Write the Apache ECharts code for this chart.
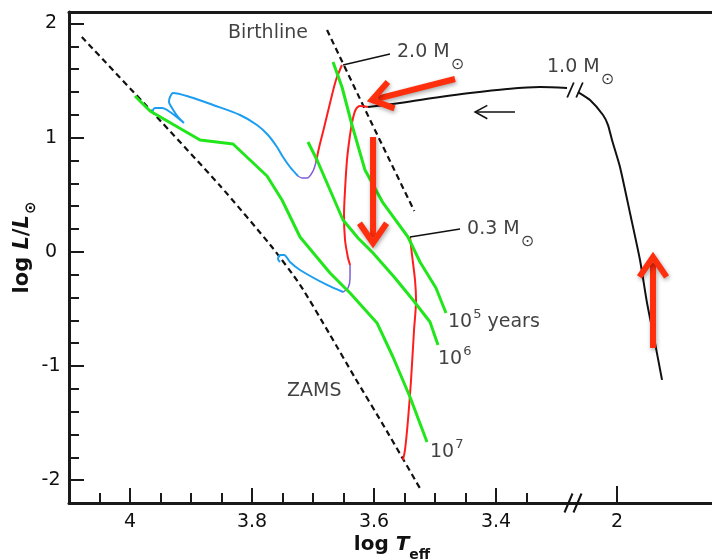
<!DOCTYPE html>
<html><head><meta charset="utf-8">
<script src="https://cdn.jsdelivr.net/npm/echarts@6/dist/echarts.min.js"></script>
<style>html,body{margin:0;padding:0;background:#fff}#c{width:712px;height:560px}</style>
</head><body><div id="c"></div>
<script>
// ---------------- data: [log Teff, log L/Lsun] ----------------
const xMajorTicks = [4, 3.8, 3.6, 3.4];
const xMinorTicks = [4.05, 3.95, 3.9, 3.85, 3.75, 3.7, 3.65, 3.55, 3.5, 3.45, 3.35];
const xRightTicks = [2];
const yMajorTicks = [-2, -1, 0, 1, 2];
const yMinorTicks = [-1.8, -1.6, -1.4, -1.2, -0.8, -0.6, -0.4, -0.2, 0.2, 0.4, 0.6, 0.8, 1.2, 1.4, 1.6, 1.8];

const zams = [[4.079,1.881],[3.962,1.215],[3.852,0.576],[3.770,0.060],[3.721,-0.291],[3.672,-0.728],[3.631,-1.105],[3.582,-1.543],[3.525,-2.068]];
const birthline = [[3.677,1.942],[3.606,1.150],[3.534,0.357]];

const track20Red = [[3.6525,1.636],[3.6623,1.5045],[3.6721,1.303],[3.682,1.084],[3.6902,0.909],[3.6951,0.786]];
const track20Purple = [[3.6951,0.786],[3.700,0.7076],[3.7098,0.6463],[3.718,0.6463],[3.7246,0.6638]];
const track20Blue = [[3.7246,0.6638],[3.7377,0.7426],[3.7492,0.8302],[3.759,0.9178],[3.7738,1.0228],[3.7918,1.1104],[3.8197,1.198],[3.8639,1.2856],[3.9016,1.3556],[3.9295,1.3907],[3.9344,1.3556],[3.9361,1.3118],[3.9311,1.2593],[3.9213,1.1805],[3.9115,1.1279],[3.9344,1.2243],[3.9475,1.2593],[3.959,1.2593],[3.9639,1.2243]];

const track10Red = [[3.6098,1.268],[3.623,1.2768],[3.6295,1.2505],[3.6344,1.1717],[3.6393,1.0228],[3.6443,0.8039],[3.6475,0.5412],[3.6492,0.3223],[3.6475,0.1033],[3.6426,-0.0543],[3.6393,-0.1156]];
const track10Purple = [[3.6393,-0.1156],[3.6393,-0.2295],[3.6426,-0.317],[3.6508,-0.352]];
const track10Blue = [[3.6508,-0.352],[3.677,-0.2907],[3.7213,-0.1594],[3.7377,-0.0893],[3.7475,-0.028],[3.7541,-0.028],[3.7574,-0.063],[3.7541,-0.0893]];

const track03Red = [[3.541,0.1296],[3.5377,-0.028],[3.5328,-0.247],[3.5311,-0.4221],[3.5344,-0.6848],[3.5393,-1.1227],[3.5443,-1.473],[3.5492,-1.7357],[3.5525,-1.8233]];

const accretionLeft = [[3.6098,1.268],[3.5574,1.3031],[3.4918,1.3556],[3.4426,1.3907],[3.382,1.4257],[3.3279,1.4432],[3.2836,1.4345]];
const accretionRight = [[2.0639,1.399],[2.0442,1.329],[2.0229,1.198],[2.0147,1.110],[2.0082,0.979],[1.9951,0.743],[1.9787,0.340],[1.9623,-0.072],[1.9508,-0.448],[1.9377,-0.798],[1.9262,-1.122]];

const iso1e5 = [[3.6672,1.6621],[3.6525,1.4432],[3.6361,1.1104],[3.6148,0.7163],[3.5852,0.4274],[3.5443,0.1296],[3.5246,-0.0893],[3.4984,-0.317],[3.482,-0.5359]];
const iso1e6 = [[3.7082,0.9616],[3.6934,0.8039],[3.6721,0.5412],[3.6508,0.2785],[3.6262,0.1209],[3.6016,-0.0105],[3.5656,-0.2294],[3.5361,-0.4221],[3.5082,-0.6148],[3.4951,-0.8162]];
const iso1e7 = [[3.9918,1.3644],[3.9672,1.233],[3.8852,0.9791],[3.8311,0.944],[3.7754,0.6638],[3.7508,0.4536],[3.7213,0.1296],[3.6721,-0.1857],[3.6393,-0.3608],[3.5951,-0.6235],[3.5689,-0.9213],[3.541,-1.2716],[3.5131,-1.6656]];

const leader20 = [[3.6508,1.636],[3.5738,1.7322]];
const leader03 = [[3.541,0.1296],[3.459,0.1997]];

// arrows: [x1, y1, x2(tip), y2(tip)]
const redArrowsLeft = [[3.4672,1.513,3.6033,1.329],[3.6016,1.005,3.6016,0.077]];
const redArrowsRight = [[1.941,-0.842,1.941,-0.046]];
const blackArrows = [[3.3689,1.224,3.4344,1.224]];
const axisBreak = [[2.0721,-2.2]];
const trackBreak = [[2.0688,1.417]];

// annotation texts (anchor = left/middle of text)
const labelsLeft = [
  {value:[3.8393,1.916], name:'{m|Birthline}'},
  {value:[3.5623,1.7497], name:'{m|2.0 M}{sun|⊙}'},
  {value:[3.3164,1.6184], name:'{m|1.0 M}{sun|⊙}'},
  {value:[3.4475,0.1997], name:'{m|0.3 M}{sun|⊙}'},
  {value:[3.4787,-0.6148], name:'{m|10}{sup|5}{m| years}'},
  {value:[3.4951,-0.9388], name:'{m|10}{sup|6}'},
  {value:[3.5082,-1.7532], name:'{m|10}{sup|7}'},
  {value:[3.7426,-1.219], name:'{m|ZAMS}'}
];

// ---------------- styling ----------------
const FONT = 'DejaVu Sans';
const TXT = '#111';
const AX = '#1a1a1a';
const RED = '#ff1e1e', GREEN = '#22e61c', BLUE = '#1c9ef0', PURPLE = '#7d5fd6', ARROW = '#ff2e0c';

const rich = {
  m: {fontFamily:FONT, fontSize:19, color:TXT, lineHeight:20},
  sun: {fontFamily:FONT, fontSize:16, color:TXT, lineHeight:16, padding:[26,0,0,1]},
  sup: {fontFamily:FONT, fontSize:13, color:TXT, lineHeight:13, padding:[0,0,14,1]}
};

function lineSeries(data, color, width, extra) {
  const s = {type:'line', data:data, xAxisIndex:0, yAxisIndex:0, showSymbol:false, symbol:'none',
    lineStyle:{color:color, width:width}, z:3, silent:true};
  return Object.assign(s, extra || {});
}
function dashed(data) {
  return {type:'line', data:data, xAxisIndex:0, yAxisIndex:0, showSymbol:false, symbol:'none', smooth:0.2,
    lineStyle:{color:'#111', width:2.2, type:[6,4]}, z:2, silent:true};
}

function arrowRender(color, width, head, angle, shadow) {
  return function (params, api) {
    const p1 = api.coord([api.value(0), api.value(1)]);
    const p2 = api.coord([api.value(2), api.value(3)]);
    const dx = p2[0]-p1[0], dy = p2[1]-p1[1];
    const len = Math.hypot(dx, dy), ux = dx/len, uy = dy/len;
    const bx = -ux, by = -uy, c = Math.cos(angle), s = Math.sin(angle);
    const h1 = [p2[0] + head*(bx*c - by*s), p2[1] + head*(bx*s + by*c)];
    const h2 = [p2[0] + head*(bx*c + by*s), p2[1] + head*(-bx*s + by*c)];
    const st = {stroke:color, lineWidth:width, fill:null, lineJoin:'miter', lineCap:'butt'};
    if (shadow) Object.assign(st, {shadowBlur:4, shadowColor:'rgba(0,0,0,0.35)', shadowOffsetX:1, shadowOffsetY:2});
    return {type:'group', children:[
      {type:'line', shape:{x1:p1[0], y1:p1[1], x2:p2[0]-ux*width, y2:p2[1]-uy*width}, style:st},
      {type:'polyline', shape:{points:[h1, p2, h2]}, style:Object.assign({}, st)}
    ]};
  };
}
function breakRender(hw, hh, sep, lw) {
  return function (params, api) {
    const p = api.coord([api.value(0), api.value(1)]);
    const kids = [];
    [-sep/2, sep/2].forEach(function (o) {
      kids.push({type:'line', shape:{x1:p[0]+o-hw, y1:p[1]+hh, x2:p[0]+o+hw, y2:p[1]-hh},
        style:{stroke:'#111', lineWidth:lw}});
    });
    return {type:'group', children:kids};
  };
}

const LMIN = 3.2738, LMAX = 4.1, RMIN = 1.8443, RMAX = 2.0721, YMIN = -2.2, YMAX = 2.1;
const baseAx = {type:'value', splitLine:{show:false}};

const option = {
  animation:false,
  backgroundColor:'#fff',
  grid:[
    {left:69, top:12, width:504, height:491, outerBoundsMode:'none', containLabel:false},
    {left:573, top:12, width:139, height:491, outerBoundsMode:'none', containLabel:false}
  ],
  xAxis:[
    Object.assign({}, baseAx, {gridIndex:0, min:LMIN, max:LMAX, inverse:true, position:'bottom',
      axisLine:{show:true, onZero:false, lineStyle:{color:AX, width:3}},
      axisTick:{show:true, inside:true, length:15, customValues:xMajorTicks, lineStyle:{color:AX, width:2}},
      axisLabel:{show:true, customValues:xMajorTicks, margin:10, fontFamily:FONT, fontSize:19, color:TXT},
      name:'{b|log }{bi|T}{bs|eff}', nameLocation:'middle', nameGap:31, nameMoveOverlap:false,
      nameTextStyle:{padding:[0,0,0,142], rich:{
        b:{fontFamily:FONT, fontWeight:'bold', fontSize:20, lineHeight:22, color:TXT},
        bi:{fontFamily:FONT, fontWeight:'bold', fontStyle:'italic', fontSize:20, lineHeight:22, color:TXT},
        bs:{fontFamily:FONT, fontWeight:'bold', fontSize:14, lineHeight:14, padding:[20,0,0,0], color:TXT}}}}),
    Object.assign({}, baseAx, {gridIndex:0, min:LMIN, max:LMAX, inverse:true, position:'bottom',
      axisLine:{show:false, onZero:false},
      axisTick:{show:true, inside:true, length:10, customValues:xMinorTicks, lineStyle:{color:AX, width:2}},
      axisLabel:{show:false}}),
    Object.assign({}, baseAx, {gridIndex:0, min:LMIN, max:LMAX, inverse:true, position:'top',
      axisLine:{show:true, onZero:false, lineStyle:{color:AX, width:3}},
      axisTick:{show:false}, axisLabel:{show:false}}),
    Object.assign({}, baseAx, {gridIndex:1, min:RMIN, max:RMAX, inverse:true, position:'bottom',
      axisLine:{show:true, onZero:false, lineStyle:{color:AX, width:3}},
      axisTick:{show:true, inside:true, length:17, customValues:xRightTicks, lineStyle:{color:AX, width:2}},
      axisLabel:{show:true, customValues:xRightTicks, margin:10, fontFamily:FONT, fontSize:19, color:TXT}}),
    Object.assign({}, baseAx, {gridIndex:1, min:RMIN, max:RMAX, inverse:true, position:'top',
      axisLine:{show:true, onZero:false, lineStyle:{color:AX, width:3}},
      axisTick:{show:false}, axisLabel:{show:false}})
  ],
  yAxis:[
    Object.assign({}, baseAx, {gridIndex:0, min:YMIN, max:YMAX, position:'left',
      axisLine:{show:true, onZero:false, lineStyle:{color:AX, width:3}},
      axisTick:{show:true, inside:true, length:15, customValues:yMajorTicks, lineStyle:{color:AX, width:2}},
      axisLabel:{show:true, customValues:yMajorTicks, margin:18, align:'center', fontFamily:FONT, fontSize:19, color:TXT},
      name:'{b|log }{bi|L}{b|/}{bi|L}{bs|⊙}', nameLocation:'middle', nameRotate:90, nameGap:35, nameMoveOverlap:false,
      nameTextStyle:{padding:[0,0,0,20], rich:{
        b:{fontFamily:FONT, fontWeight:'bold', fontSize:21, lineHeight:22, color:TXT},
        bi:{fontFamily:FONT, fontWeight:'bold', fontStyle:'italic', fontSize:21, lineHeight:22, color:TXT},
        bs:{fontFamily:FONT, fontWeight:'bold', fontSize:15, lineHeight:15, padding:[17,0,0,1], color:TXT}}}}),
    Object.assign({}, baseAx, {gridIndex:0, min:YMIN, max:YMAX, position:'left',
      axisLine:{show:false, onZero:false},
      axisTick:{show:true, inside:true, length:10, customValues:yMinorTicks, lineStyle:{color:AX, width:2}},
      axisLabel:{show:false}}),
    Object.assign({}, baseAx, {gridIndex:1, min:YMIN, max:YMAX, show:false})
  ],
  series:[
    dashed(zams),
    dashed(birthline),
    lineSeries(track20Blue, BLUE, 2, {smooth:0.3}),
    lineSeries(track20Purple, PURPLE, 1.5, {smooth:0.3}),
    lineSeries(track20Red, RED, 2, {smooth:0.3}),
    lineSeries(track10Blue, BLUE, 2, {smooth:0.3}),
    lineSeries(track10Purple, PURPLE, 1.5, {smooth:0.3}),
    lineSeries(track10Red, RED, 2, {smooth:0.3}),
    lineSeries(track03Red, RED, 2, {smooth:0.3}),
    lineSeries(iso1e5, GREEN, 3, {z:4}),
    lineSeries(iso1e6, GREEN, 3, {z:4}),
    lineSeries(iso1e7, GREEN, 3, {z:4}),
    lineSeries(accretionLeft, '#111', 2, {smooth:0.3}),
    lineSeries(accretionRight, '#111', 2, {xAxisIndex:3, yAxisIndex:2, smooth:0.2}),
    lineSeries(leader20, '#111', 1.5),
    lineSeries(leader03, '#111', 1.5),
    {type:'custom', xAxisIndex:0, yAxisIndex:0, data:redArrowsLeft, z:6, silent:true,
      renderItem:arrowRender(ARROW, 6, 24, 0.6, true)},
    {type:'custom', xAxisIndex:3, yAxisIndex:2, data:redArrowsRight, z:6, silent:true,
      renderItem:arrowRender(ARROW, 6, 24, 0.6, true)},
    {type:'custom', xAxisIndex:0, yAxisIndex:0, data:blackArrows, z:6, silent:true,
      renderItem:arrowRender('#111', 1.5, 14, 0.5, false)},
    {type:'custom', xAxisIndex:3, yAxisIndex:2, data:axisBreak, z:10, silent:true,
      renderItem:breakRender(4, 9.5, 9, 2)},
    {type:'custom', xAxisIndex:3, yAxisIndex:2, data:trackBreak, z:10, silent:true,
      renderItem:breakRender(3.3, 7.5, 9, 1.8)},
    {type:'scatter', xAxisIndex:0, yAxisIndex:0, data:labelsLeft, symbolSize:0, z:8, silent:true,
      label:{show:true, position:'right', distance:0, formatter:function (p) { return p.name; }, rich:rich}}
  ]
};

const chart = echarts.init(document.getElementById('c'));
chart.setOption(option);
</script>
</body></html>
